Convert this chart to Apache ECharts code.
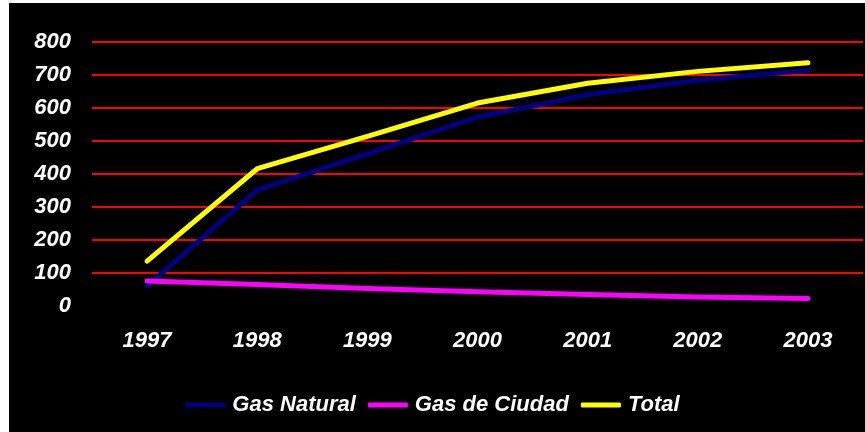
<!DOCTYPE html>
<html>
<head>
<meta charset="utf-8">
<script src="https://cdn.jsdelivr.net/npm/echarts@6/dist/echarts.min.js"></script>
<style>
html,body{margin:0;padding:0;background:#fff;}
#bg{position:absolute;left:9px;top:3px;width:856px;height:429px;background:#000;}
#chart{position:absolute;left:0;top:0;width:865px;height:432px;}
</style>
</head>
<body>
<div id="bg"></div>
<div id="chart"></div>
<script>
const categories = ['1997','1998','1999','2000','2001','2002','2003'];
const gasNatural = [60, 351, 461, 572, 640, 684, 714];
const gasCiudad = [76, 65, 53, 43, 35, 27, 23];
const total = [136, 416, 514, 615, 675, 711, 737];
const seriesNames = ['Gas Natural', 'Gas de Ciudad', 'Total'];
const seriesColors = ['#000080', '#FF00FF', '#FFFF00'];

const font = {color:'#fff', fontFamily:'Liberation Sans, Arial, sans-serif', fontStyle:'italic', fontWeight:'bold', fontSize:22};
const chart = echarts.init(document.getElementById('chart'), null, {renderer:'canvas'});
const data = [gasNatural, gasCiudad, total];
chart.setOption({
  backgroundColor:'transparent',
  animation:false,
  grid:{left:92, right:2, top:42, height:264},
  legend:{
    left:'center', top:389, itemWidth:40, itemHeight:5, itemGap:12,
    icon:'roundRect',
    textStyle:Object.assign({}, font, {padding:[0,0,0,2]}),
    data:seriesNames
  },
  xAxis:{
    type:'category', data:categories, boundaryGap:true,
    axisLine:{show:false}, axisTick:{show:false},
    axisLabel:Object.assign({margin:24}, font),
    splitLine:{show:false}
  },
  yAxis:{
    type:'value', min:0, max:800, interval:100,
    axisLine:{show:false}, axisTick:{show:false},
    axisLabel:Object.assign({margin:21}, font),
    splitLine:{show:true, showMinLine:false, lineStyle:{color:'#FF0000', width:2, opacity:1}}
  },
  series: seriesNames.map((n,i)=>({
    name:n, type:'line', data:data[i], showSymbol:false, symbol:'none',
    color:seriesColors[i],
    lineStyle:{color:seriesColors[i], width:5, cap:'round', join:'round'}
  }))
});
</script>
</body>
</html>
